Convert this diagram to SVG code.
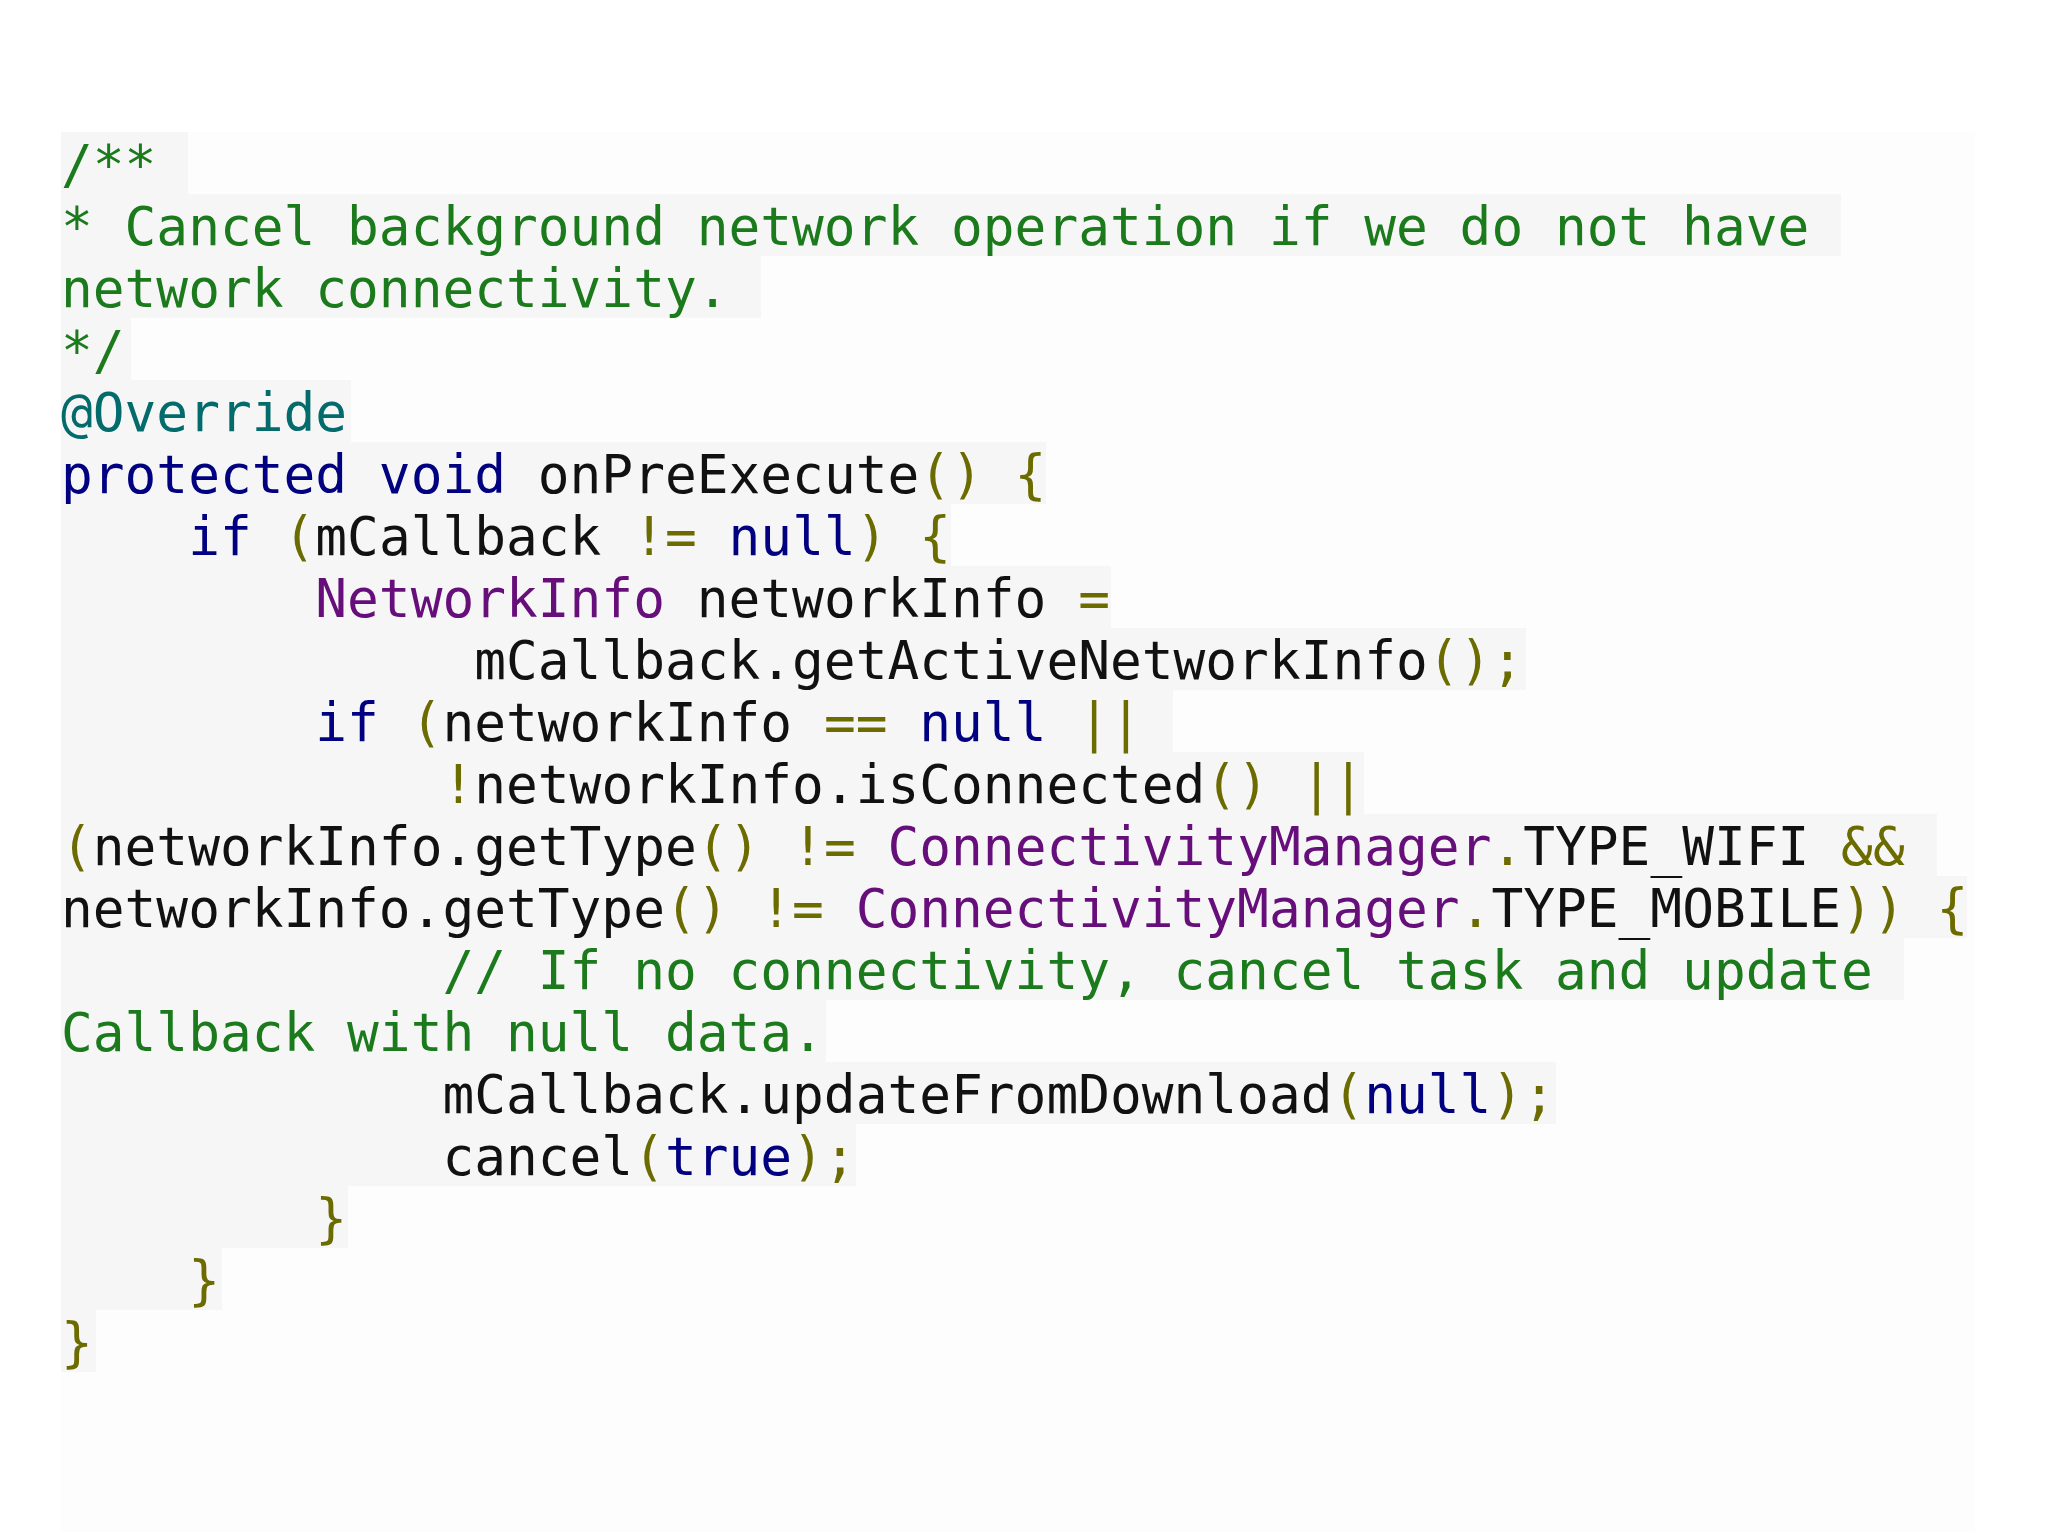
<svg xmlns="http://www.w3.org/2000/svg" width="2048" height="1536" viewBox="0 0 2048 1536">
<style>
text{font-family:"DejaVu Sans Mono","Liberation Mono",monospace;font-size:52.8px;fill:#111;white-space:pre}
.c{fill:#1b7a1b}.k{fill:#000080}.p{fill:#6b6b00}.t{fill:#660e7a}.a{fill:#036b6b}
.bg{fill:#f6f6f6}
</style>
<rect x="61" y="132" width="1914" height="1400" fill="#fdfdfd"/>
<g id="bg">
<rect class="bg" x="61" y="132" width="127" height="62"/>
<rect class="bg" x="61" y="194" width="1780" height="62"/>
<rect class="bg" x="61" y="256" width="700" height="62"/>
<rect class="bg" x="61" y="318" width="70" height="62"/>
<rect class="bg" x="61" y="380" width="290" height="62"/>
<rect class="bg" x="61" y="442" width="985" height="62"/>
<rect class="bg" x="61" y="504" width="890" height="62"/>
<rect class="bg" x="61" y="566" width="1050" height="62"/>
<rect class="bg" x="61" y="628" width="1465" height="62"/>
<rect class="bg" x="61" y="690" width="1112" height="62"/>
<rect class="bg" x="61" y="752" width="1303" height="62"/>
<rect class="bg" x="61" y="814" width="1876" height="62"/>
<rect class="bg" x="61" y="876" width="1906" height="62"/>
<rect class="bg" x="61" y="938" width="1843" height="62"/>
<rect class="bg" x="61" y="1000" width="765" height="62"/>
<rect class="bg" x="61" y="1062" width="1495" height="62"/>
<rect class="bg" x="61" y="1124" width="795" height="62"/>
<rect class="bg" x="61" y="1186" width="287" height="62"/>
<rect class="bg" x="61" y="1248" width="161" height="62"/>
<rect class="bg" x="61" y="1310" width="35" height="62"/>
</g>
<g id="code" xml:space="preserve">
<text x="61" y="183" class="c">/**</text>
<text x="61" y="245" class="c">* Cancel background network operation if we do not have</text>
<text x="61" y="307" class="c">network connectivity.</text>
<text x="61" y="369" class="c">*/</text>
<text x="61" y="431" class="a">@Override</text>
<text x="61" y="493"><tspan class="k">protected void</tspan> onPreExecute<tspan class="p">() {</tspan></text>
<text x="61" y="555">    <tspan class="k">if</tspan> <tspan class="p">(</tspan>mCallback <tspan class="p">!=</tspan> <tspan class="k">null</tspan><tspan class="p">) {</tspan></text>
<text x="61" y="617">        <tspan class="t">NetworkInfo</tspan> networkInfo <tspan class="p">=</tspan></text>
<text x="61" y="679">             mCallback.getActiveNetworkInfo<tspan class="p">();</tspan></text>
<text x="61" y="741">        <tspan class="k">if</tspan> <tspan class="p">(</tspan>networkInfo <tspan class="p">==</tspan> <tspan class="k">null</tspan> <tspan class="p">||</tspan></text>
<text x="61" y="803">            <tspan class="p">!</tspan>networkInfo.isConnected<tspan class="p">() ||</tspan></text>
<text x="61" y="865"><tspan class="p">(</tspan>networkInfo.getType<tspan class="p">() !=</tspan> <tspan class="t">ConnectivityManager</tspan><tspan class="p">.</tspan>TYPE_WIFI <tspan class="p">&amp;&amp;</tspan></text>
<text x="61" y="927">networkInfo.getType<tspan class="p">() !=</tspan> <tspan class="t">ConnectivityManager</tspan><tspan class="p">.</tspan>TYPE_MOBILE<tspan class="p">)) {</tspan></text>
<text x="61" y="989" class="c">            // If no connectivity, cancel task and update</text>
<text x="61" y="1051" class="c">Callback with null data.</text>
<text x="61" y="1113">            mCallback.updateFromDownload<tspan class="p">(</tspan><tspan class="k">null</tspan><tspan class="p">);</tspan></text>
<text x="61" y="1175">            cancel<tspan class="p">(</tspan><tspan class="k">true</tspan><tspan class="p">);</tspan></text>
<text x="61" y="1237" class="p">        }</text>
<text x="61" y="1299" class="p">    }</text>
<text x="61" y="1361" class="p">}</text>
</g>
</svg>
